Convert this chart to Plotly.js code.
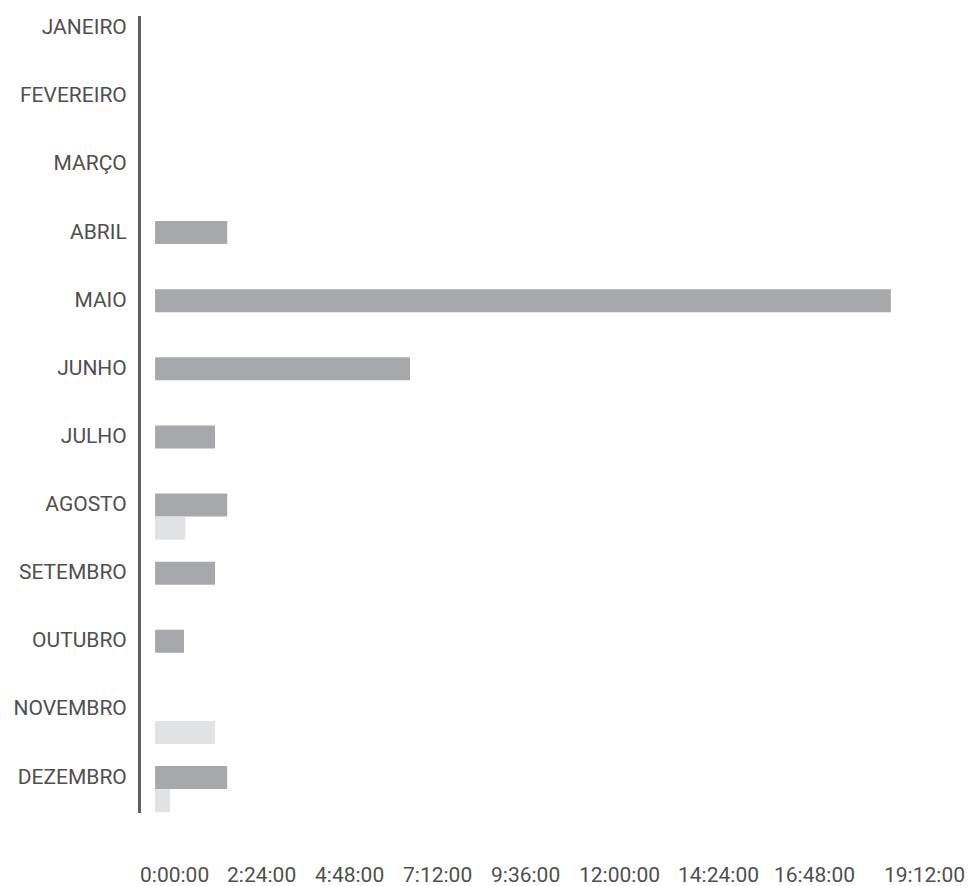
<!DOCTYPE html>
<html>
<head>
<meta charset="utf-8">
<script src="https://cdn.plot.ly/plotly-3.0.1.min.js"></script>
<style>
  html, body { margin: 0; padding: 0; background: #ffffff; }
  #chart { width: 968px; height: 886px; }
</style>
</head>
<body>
<div id="chart"></div>
<script>
// Categories (months)
var months = ["JANEIRO", "FEVEREIRO", "MARÇO", "ABRIL", "MAIO", "JUNHO",
              "JULHO", "AGOSTO", "SETEMBRO", "OUTUBRO", "NOVEMBRO", "DEZEMBRO"];

// Series values, in hours
var seriesDark  = [null, null, null, 1.72, 17.55, 6.08, 1.43, 1.72, 1.43, 0.69, null, 1.72];
var seriesLight = [null, null, null, null, null, null, null, 0.72, null, null, 1.43, 0.36];

// X tick labels (hours)
var xTickValues = [0, 2.4, 4.8, 7.2, 9.6, 12, 14.4, 16.8, 19.2];
var xTickLabels = ["0:00:00", "2:24:00", "4:48:00", "7:12:00", "9:36:00",
                   "12:00:00", "14:24:00", "16:48:00", "19:12:00"];

var W = 968, H = 886;
var mL = 141, mR = 8, mT = 16, mB = 73;
var plotW = W - mL - mR, plotH = H - mT - mB;

var fontFamily = "Roboto, 'Noto Sans', 'Liberation Sans', sans-serif";
var textColor = "#4f4f4f";

var barW = 0.338;

var traces = [
  {
    type: "bar", orientation: "h", name: "Série 1",
    y: months, x: seriesDark,
    marker: { color: "#a7a8ab", line: { width: 0 } },
    width: barW, offset: -0.15,
    hoverinfo: "y+x"
  },
  {
    type: "bar", orientation: "h", name: "Série 2",
    y: months, x: seriesLight,
    marker: { color: "#e1e2e3", line: { width: 0 } },
    width: barW, offset: 0.19,
    hoverinfo: "y+x"
  }
];

// Tick labels spread across the bottom (centers in pixels)
var tickCentersPx = [174, 261.5, 349.5, 437, 525.5, 619, 718.5, 814, 924];
var annotations = xTickLabels.map(function (t, i) {
  return {
    text: t, xref: "paper", yref: "paper",
    x: (tickCentersPx[i] - mL) / plotW,
    y: (mT + plotH - 875) / plotH,
    xanchor: "center", yanchor: "middle",
    borderpad: 0,
    showarrow: false,
    font: { family: fontFamily, size: 21, color: textColor }
  };
});

var layout = {
  width: W, height: H,
  margin: { l: mL, r: mR, t: mT, b: mB, pad: 0 },
  paper_bgcolor: "#ffffff", plot_bgcolor: "#ffffff",
  barmode: "overlay",
  showlegend: false,
  xaxis: {
    range: [-0.336, 19.2],
    tickvals: xTickValues, ticktext: xTickLabels,
    showticklabels: false,
    showgrid: false, zeroline: false, showline: false, ticks: ""
  },
  yaxis: {
    type: "category",
    categoryorder: "array", categoryarray: months,
    range: [11.54, -0.16],
    showgrid: false, zeroline: false,
    showline: true, linecolor: "#606060", linewidth: 3,
    ticks: "", ticklabelstandoff: 7,
    tickfont: { family: fontFamily, size: 21, color: textColor }
  },
  annotations: annotations
};

Plotly.newPlot("chart", traces, layout, { displayModeBar: false, staticPlot: true });
</script>
</body>
</html>
